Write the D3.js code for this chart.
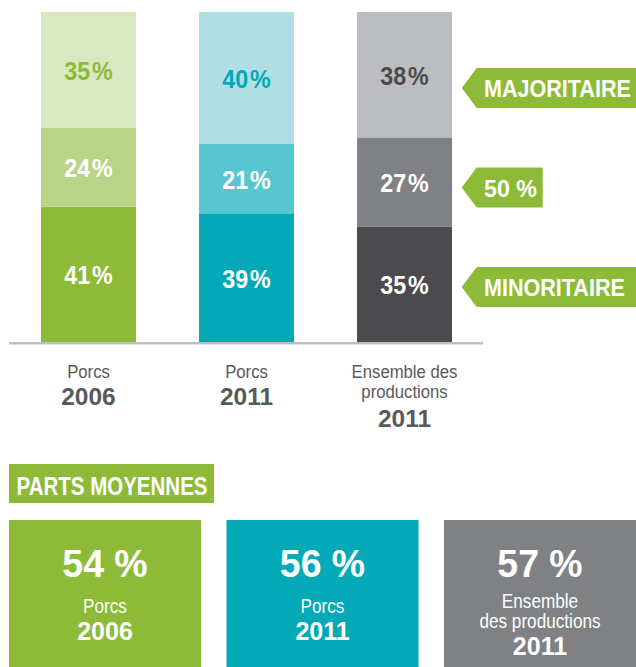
<!DOCTYPE html>
<html>
<head>
<meta charset="utf-8">
<script src="https://cdn.jsdelivr.net/npm/d3@7"></script>
<style>
  html, body { margin: 0; padding: 0; background: #ffffff; }
  svg { display: block; }
  text { font-family: 'Liberation Sans', Arial, sans-serif; }
</style>
</head>
<body>
<svg id="chart" width="636" height="667"></svg>
<script>
// ---- data ----
const categories = ["Porcs 2006", "Porcs 2011", "Ensemble des productions 2011"];
const categoryNames = [["Porcs"], ["Porcs"], ["Ensemble des", "productions"]];
const categoryYears = ["2006", "2011", "2011"];
const minoritaire = [41, 39, 35];
const cinquante = [24, 21, 27];
const majoritaire = [35, 40, 38];
const seriesKeys = ["minoritaire", "cinquante", "majoritaire"];
const tagLabels = ["MINORITAIRE", "50 %", "MAJORITAIRE"];
const averageTitle = "PARTS MOYENNES";
const averages = [54, 56, 57];
const averageNames = [["Porcs"], ["Porcs"], ["Ensemble", "des productions"]];
const averageYears = ["2006", "2011", "2011"];

// ---- colours ----
const palette = [
  ["#8dbb38", "#b9d487", "#d9e8c0"],
  ["#03a9b6", "#58c6ce", "#b1dee3"],
  ["#4b4b4d", "#808184", "#bcbdc0"]
];
const topTextColor = ["#8dbb38", "#03a9b6", "#4b4b4d"];
const boxColors = ["#8dbb38", "#03a9b6", "#808184"];
const tagGreen = "#8dbb38";
const labelGrey = "#58595b";

const svg = d3.select("#chart");

// condensed text helper (horizontal squeeze to emulate a condensed face)
function label(g, x, y, str, o) {
  return g.append("text")
    .attr("transform", `translate(${x},${y}) scale(${o.sx || 1},1)`)
    .attr("text-anchor", o.anchor || "middle")
    .attr("font-size", o.size)
    .attr("font-weight", o.weight || "normal")
    .attr("fill", o.fill)
    .text(str);
}

const table = categories.map((c, i) => ({
  cat: c, minoritaire: minoritaire[i], cinquante: cinquante[i], majoritaire: majoritaire[i], idx: i
}));
const stacked = d3.stack().keys(seriesKeys)(table);

const x = d3.scaleBand().domain(categories).range([41, 452]).paddingInner(0.399).paddingOuter(0);
const y = d3.scaleLinear().domain([0, 100]).range([342, 12]);

// bars
const gBars = svg.append("g");
const gLabels = svg.append("g");
stacked.forEach((layer, li) => {
  gBars.append("g").selectAll("rect").data(layer).join("rect")
    .attr("x", d => x(d.data.cat))
    .attr("width", x.bandwidth())
    .attr("y", d => y(d[1]))
    .attr("height", d => y(d[0]) - y(d[1]))
    .attr("fill", d => palette[d.data.idx][li]);
  layer.forEach(d => {
    label(gLabels, x(d.data.cat) + x.bandwidth() / 2, (y(d[0]) + y(d[1])) / 2 + 10,
      (d[1] - d[0]) + "\u200A%",
      { size: 25, weight: "bold", sx: 0.93, fill: li === 2 ? topTextColor[d.data.idx] : "#ffffff" });
  });
});

// baseline
svg.append("line")
  .attr("x1", 9).attr("x2", 483)
  .attr("y1", y(0) + 1.2).attr("y2", y(0) + 1.2)
  .attr("stroke", "#bcbec0").attr("stroke-width", 2.5);

// category labels
categories.forEach((c, i) => {
  const cx = x(c) + x.bandwidth() / 2;
  const names = categoryNames[i];
  names.forEach((n, k) => {
    label(svg, cx, 378 + k * 19.5, n, { size: 19, sx: 0.88, fill: labelGrey });
  });
  label(svg, cx, names.length > 1 ? 427 : 405, categoryYears[i],
    { size: 24.5, weight: "bold", sx: 1, fill: labelGrey });
});

// tags
const tagY = d3.scalePoint().domain(tagLabels).range([287, 88]);
const tagWidths = [162, 66, 162];
tagLabels.forEach((t, i) => {
  const cy = tagY(t);
  const x0 = 461.7, x1 = 476.7, w = tagWidths[i];
  svg.append("path")
    .attr("d", `M${x0},${cy} L${x1},${cy - 20} L${x1 + w},${cy - 20} L${x1 + w},${cy + 20} L${x1},${cy + 20} Z`)
    .attr("fill", tagGreen);
  label(svg, 484, cy + 9, t, { size: 24.5, weight: "bold", anchor: "start", sx: t.length > 5 ? 0.88 : 0.95, fill: "#ffffff" });
});

// parts moyennes title
svg.append("rect").attr("x", 9).attr("y", 464).attr("width", 205).attr("height", 39).attr("fill", tagGreen);
label(svg, 112, 495, averageTitle, { size: 25, weight: "bold", sx: 0.82, fill: "#ffffff" });

// average boxes
const bx = d3.scaleBand().domain(categories).range([9, 636]).paddingInner(0.1172).paddingOuter(0);
categories.forEach((c, i) => {
  const x0 = bx(c), cx = x0 + bx.bandwidth() / 2;
  svg.append("rect").attr("x", x0).attr("y", 520).attr("width", bx.bandwidth()).attr("height", 147)
    .attr("fill", boxColors[i]);
  label(svg, cx, 577, averages[i] + " %", { size: 39, weight: "bold", sx: 0.96, fill: "#ffffff" });
  const names = averageNames[i];
  const base = names.length > 1 ? 608 : 613;
  names.forEach((n, k) => {
    label(svg, cx, base + k * 20, n, { size: 19.5, sx: 0.88, fill: "#ffffff" });
  });
  label(svg, cx, names.length > 1 ? 655 : 640, averageYears[i],
    { size: 25, weight: "bold", sx: 1, fill: "#ffffff" });
});
</script>
</body>
</html>
